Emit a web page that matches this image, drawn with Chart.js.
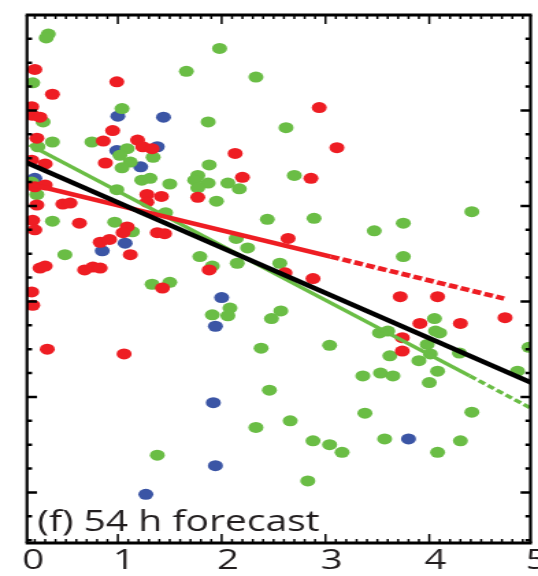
<!DOCTYPE html>
<html>
<head>
<meta charset="utf-8">
<script src="https://cdn.jsdelivr.net/npm/chart.js@4/dist/chart.umd.min.js"></script>
<style>
  html, body { margin: 0; padding: 0; background: #fff; overflow: hidden; }
  /* the source figure is stretched sideways, so the canvas is too */
  #chart { display: block; transform: scaleX(1.369); transform-origin: 0 0; }
</style>
</head>
<body>
<canvas id="chart" width="393" height="576"></canvas>
<script>
const xTickLabels = ["0", "1", "2", "3", "4", "5"];
const panelLabel = "(f) 54 h forecast";

const redX = [0.20, 0.99, 0.37, 0.17, 0.18, 0.25, 0.95, 0.22, 0.86, 1.19, 1.24, 1.33, 2.13, 0.17, 0.30,
  0.88, 2.20, 0.20, 0.30, 1.28, 1.42, 1.28, 1.77, 0.22, 0.47, 0.54, 0.18, 0.20, 0.63, 1.09, 1.05, 0.83,
  0.92, 1.38, 1.45, 1.12, 0.25, 0.30, 0.68, 0.76, 0.83, 1.88, 0.17, 1.43, 0.18, 0.32, 1.06, 2.94, 3.11,
  2.86, 2.64, 2.61, 2.88, 3.72, 4.08, 3.91, 4.30, 4.73, 3.74, 3.74];
const redY = [5.43, 5.30, 5.17, 5.04, 4.95, 4.93, 4.79, 4.71, 4.68, 4.69, 4.62, 4.60, 4.55, 4.48, 4.44,
  4.45, 4.30, 4.20, 4.22, 4.12, 4.10, 4.04, 4.09, 4.01, 4.02, 4.03, 3.85, 3.75, 3.82, 3.78, 3.72, 3.62,
  3.65, 3.72, 3.71, 3.49, 3.35, 3.37, 3.33, 3.36, 3.35, 3.33, 3.10, 3.14, 2.96, 2.50, 2.45, 5.03, 4.61,
  4.29, 3.66, 3.30, 3.24, 3.05, 3.05, 2.77, 2.77, 2.83, 2.62, 2.48];

const greenX = [0.33, 0.31, 1.98, 1.66, 2.33, 0.18, 1.04, 0.28, 1.87, 0.37, 0.75, 0.23, 1.09, 1.02, 1.12,
  1.04, 1.34, 1.88, 1.23, 1.31, 1.50, 1.77, 1.74, 1.87, 1.77, 2.06, 2.17, 1.95, 0.99, 0.22, 0.17, 0.37,
  0.97, 1.14, 1.46, 2.44, 2.14, 2.25, 0.49, 1.79, 1.91, 2.15, 2.56, 1.33, 1.50, 2.62, 2.70, 2.89, 3.47,
  3.75, 4.41, 3.75, 1.91, 2.08, 2.06, 2.57, 2.48, 2.38, 2.46, 2.33, 1.38, 3.04, 2.66, 2.88, 3.04, 3.16,
  2.83, 3.38, 3.36, 3.53, 3.65, 3.52, 3.60, 3.62, 3.90, 4.01, 4.08, 4.00, 4.05, 4.06, 4.10, 3.98, 4.29,
  4.41, 3.57, 4.30, 4.08, 4.85, 4.96];
const greenY = [5.80, 5.76, 5.65, 5.41, 5.35, 5.29, 5.02, 4.88, 4.88, 4.67, 4.67, 4.62, 4.60, 4.53, 4.46,
  4.40, 4.51, 4.43, 4.27, 4.29, 4.23, 4.32, 4.27, 4.24, 4.19, 4.24, 4.18, 4.05, 4.17, 4.12, 4.25, 3.84,
  3.83, 3.73, 3.93, 3.86, 3.66, 3.56, 3.49, 3.47, 3.37, 3.40, 3.40, 3.18, 3.20, 4.82, 4.32, 3.87, 3.74,
  3.82, 3.94, 3.47, 2.86, 2.93, 2.85, 2.90, 2.82, 2.51, 2.07, 1.68, 1.39, 2.54, 1.75, 1.54, 1.50, 1.42,
  1.12, 1.83, 2.22, 2.25, 2.22, 2.67, 2.69, 2.43, 2.38, 2.45, 2.27, 2.15, 2.82, 2.69, 2.67, 2.55, 2.46,
  1.84, 1.56, 1.54, 1.42, 2.27, 2.52];

const blueX = [1.00, 1.44, 0.99, 1.38, 1.22, 0.20, 0.85, 1.07, 2.00, 1.94, 1.92, 1.94, 1.27, 3.80];
const blueY = [4.94, 4.93, 4.58, 4.62, 4.41, 4.29, 3.53, 3.61, 3.04, 2.74, 1.94, 1.28, 0.98, 1.56];

// regression lines, solid part then dashed extension
const blackLineX = [0, 5];
const blackLineY = [4.51, 2.14];
const redLineX = [0, 3.05];
const redLineY = [4.27, 3.47];
const redDashX = [3.05, 4.72];
const redDashY = [3.47, 3.03];
const greenLineX = [0.15, 4.39];
const greenLineY = [4.64, 2.22];
const greenDashX = [4.39, 5];
const greenDashY = [2.22, 1.87];

const RED = "#ee1d23", GREEN = "#6abd45", BLUE = "#3b55a5";

const pts = (xs, ys) => xs.map((x, i) => ({ x: x, y: ys[i] }));

function dots(xs, ys, color, order) {
  return {
    data: pts(xs, ys), order: order,
    pointStyle: "circle", pointRadius: 5.5, pointHoverRadius: 5.5,
    pointBackgroundColor: color, pointBorderWidth: 0, showLine: false
  };
}

function line(xs, ys, color, width, dash, order) {
  return {
    data: pts(xs, ys), order: order, showLine: true, clip: 0,
    borderColor: color, borderWidth: width, borderDash: dash || [],
    borderCapStyle: "butt", pointRadius: 0, pointHoverRadius: 0
  };
}

const frame = {
  id: "frame",
  afterDraw(chart) {
    const { ctx, chartArea: a, scales: { x, y } } = chart;
    ctx.save();
    ctx.strokeStyle = "#000";

    // x minor/major ticks, top and bottom, pointing in
    ctx.lineWidth = 1.5;
    for (let i = 1; i < 50; i++) {
      const v = i / 10;
      if (v <= x.min || v >= x.max) continue;
      const px = x.getPixelForValue(v);
      const len = i % 10 === 0 ? 9 : 4;
      ctx.beginPath();
      ctx.moveTo(px, a.bottom); ctx.lineTo(px, a.bottom - len);
      ctx.moveTo(px, a.top); ctx.lineTo(px, a.top + len);
      ctx.stroke();
    }

    // y ticks left and right
    ctx.lineWidth = 2.5;
    for (let j = 1; j < 24; j++) {
      const v = j / 4;
      if (v <= y.min || v >= y.max) continue;
      const py = y.getPixelForValue(v);
      const len = j % 4 === 0 ? 7.3 : 3.7;
      ctx.beginPath();
      ctx.moveTo(a.left, py); ctx.lineTo(a.left + len, py);
      ctx.moveTo(a.right, py); ctx.lineTo(a.right - len, py);
      ctx.stroke();
    }

    // box
    ctx.lineWidth = 3;
    ctx.beginPath();
    ctx.moveTo(a.left - 1, a.top); ctx.lineTo(a.right + 1, a.top);
    ctx.moveTo(a.left - 1, a.bottom); ctx.lineTo(a.right + 1, a.bottom);
    ctx.stroke();
    ctx.lineWidth = 2.2;
    ctx.beginPath();
    ctx.moveTo(a.left, a.top); ctx.lineTo(a.left, a.bottom);
    ctx.moveTo(a.right, a.top); ctx.lineTo(a.right, a.bottom);
    ctx.stroke();

    ctx.fillStyle = "#231f20";
    ctx.font = '28.5px "Open Sans"';
    ctx.textBaseline = "alphabetic";
    ctx.fillText(panelLabel, a.left + 7.5, a.bottom - 12);
    ctx.restore();
  }
};

new Chart(document.getElementById("chart"), {
  type: "scatter",
  data: {
    datasets: [
      line(blackLineX, blackLineY, "#000", 4.5, null, 0),
      line(redLineX, redLineY, RED, 4.6, null, 1),
      line(redDashX, redDashY, RED, 4.6, [6.5, 2.6], 1),
      line(greenLineX, greenLineY, GREEN, 3.4, null, 2),
      line(greenDashX, greenDashY, GREEN, 3.4, [5.5, 2.6], 2),
      dots(redX, redY, RED, 3),
      dots(greenX, greenY, GREEN, 4),
      dots(blueX, blueY, BLUE, 5)
    ]
  },
  options: {
    responsive: false,
    animation: false,
    events: [],
    layout: { padding: { left: 19.72, right: 5.13, top: 15, bottom: 0 } },
    plugins: { legend: { display: false }, tooltip: { enabled: false } },
    scales: {
      x: {
        type: "linear", min: 0.125, max: 4.975,
        grid: { display: false, drawTicks: false },
        border: { display: false },
        afterBuildTicks: (s) => {
          s.ticks = xTickLabels.map(l => ({ value: Math.min(Math.max(Number(l), s.min), s.max) }));
        },
        afterFit: (s) => { s.height = 33; s.paddingLeft = 0; s.paddingRight = 0; },
        ticks: {
          autoSkip: false, maxRotation: 0, padding: 1, labelOffset: 4.5,
          color: "#231f20", font: { family: "Open Sans", size: 28 },
          callback: (v, i) => xTickLabels[i]
        }
      },
      y: { type: "linear", min: 0.47, max: 6, display: false }
    }
  },
  plugins: [frame]
});
</script>
</body>
</html>
